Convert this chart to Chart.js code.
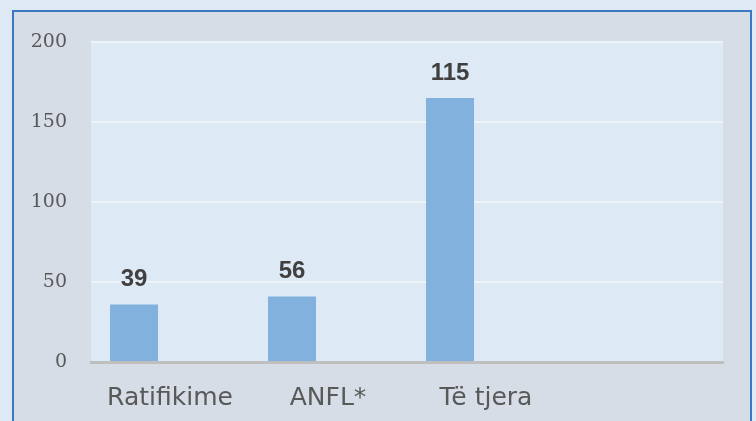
<!DOCTYPE html>
<html>
<head>
<meta charset="utf-8">
<script src="https://cdn.jsdelivr.net/npm/chart.js@4/dist/chart.umd.min.js"></script>
<style>
  html, body { margin: 0; padding: 0; }
  body { width: 756px; height: 421px; background: #dee9f5; position: relative; overflow: hidden; }
  .frame {
    position: absolute; left: 12px; top: 10px; width: 736px; height: 420px;
    border: 2px solid #3a78c0; background: #d6dde6;
  }
  #chart { position: absolute; left: 0; top: 0; }
</style>
</head>
<body>
<div class="frame"></div>
<canvas id="chart" width="756" height="421"></canvas>
<script>
const categories = ['Ratifikime', 'ANFL*', 'Të tjera', ''];
const barValues = [36, 41, 165, null];
const otherSeries = [null, null, null, null];
const barLabels = ['39', '56', '115', ''];
const yTicks = [0, 50, 100, 150, 200];

// fill the plot area before anything else is drawn
const plotBackground = {
  id: 'plotBackground',
  beforeDraw(chart) {
    const a = chart.chartArea;
    const ctx = chart.ctx;
    ctx.save();
    ctx.fillStyle = '#dde9f5';
    ctx.fillRect(a.left, a.top, a.right - a.left, a.bottom - a.top);
    ctx.restore();
  }
};

// value text above each bar
const barText = {
  id: 'barText',
  afterDatasetsDraw(chart) {
    const ctx = chart.ctx;
    const meta = chart.getDatasetMeta(0);
    ctx.save();
    ctx.font = 'bold 24px "Liberation Sans", Arial, sans-serif';
    ctx.fillStyle = '#404040';
    ctx.textAlign = 'center';
    ctx.textBaseline = 'middle';
    meta.data.forEach((bar, i) => {
      if (barValues[i] == null) return;
      ctx.fillText(barLabels[i], bar.x, bar.y - 25);
    });
    ctx.restore();
  }
};

new Chart(document.getElementById('chart').getContext('2d'), {
  type: 'bar',
  data: {
    labels: categories,
    datasets: [{
      label: 'Seria 1',
      data: barValues,
      backgroundColor: '#83b1dd',
      categoryPercentage: 0.911,
      barPercentage: 0.667
    }, {
      label: 'Seria 2',
      data: otherSeries,
      backgroundColor: '#83b1dd',
      categoryPercentage: 0.911,
      barPercentage: 0.667
    }]
  },
  options: {
    responsive: false,
    animation: false,
    layout: { padding: { top: 42, right: 33, left: 0, bottom: 0 } },
    plugins: {
      legend: { display: false },
      tooltip: { enabled: false }
    },
    scales: {
      x: {
        grid: { display: false, drawTicks: false },
        border: { display: true, color: '#bfbfbf', width: 3 },
        ticks: {
          color: '#595959',
          padding: 21,
          font: { family: '"DejaVu Sans", Verdana, sans-serif', size: 25 }
        },
        afterFit(scale) { scale.height = 59; }
      },
      y: {
        min: 0,
        max: 200,
        afterBuildTicks(scale) { scale.ticks = yTicks.map(v => ({ value: v })); },
        grid: {
          drawTicks: false,
          color: ctx => ctx.tick && ctx.tick.value === 0 ? 'rgba(0,0,0,0)' : '#eef3f8',
          lineWidth: 2
        },
        border: { display: false },
        ticks: {
          color: '#595959',
          padding: 24,
          font: { family: '"DejaVu Serif", Georgia, serif', size: 19 }
        },
        afterFit(scale) { scale.width = 91; }
      }
    }
  },
  plugins: [plotBackground, barText]
});
</script>
</body>
</html>
